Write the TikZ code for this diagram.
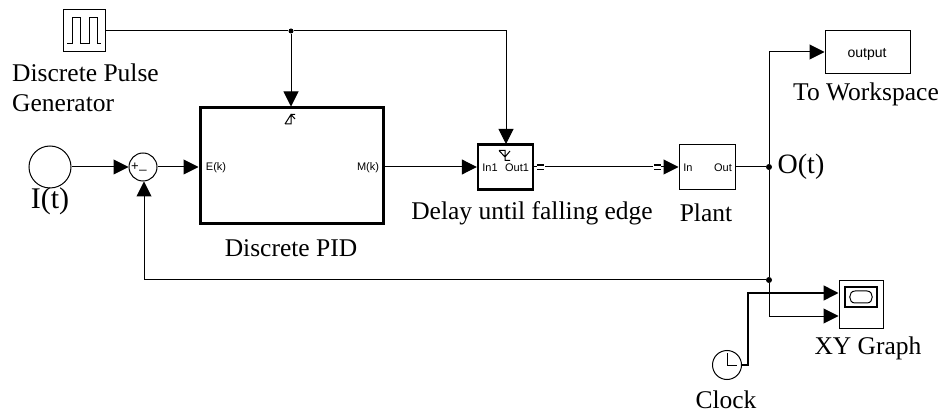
\documentclass[tikz,border=0pt]{standalone}
\usepackage{fontspec}
\setmainfont{Liberation Serif}
\newfontfamily\portfont{Liberation Sans}
\usetikzlibrary{arrows.meta}
\tikzset{
  x=1pt,y=-1pt,
  blk/.style={draw=black,line width=1pt,minimum width=#1,inner sep=0pt,fill=white},
  blk/.default=40pt,
  sig/.style={draw=black,line width=1pt,-{Triangle[length=15pt,width=15pt]}},
  wire/.style={draw=black,line width=1pt},
  lab/.style={font=\fontsize{25.5}{30}\selectfont,text=black,inner sep=0pt,align=left},
  port/.style={font=\portfont\fontsize{11}{12}\selectfont,text=black,inner sep=0pt},
  jn/.style={circle,fill=black,inner sep=0pt,minimum size=6pt},
}
\begin{document}
\begin{tikzpicture}
\useasboundingbox (0,0) rectangle (943,414);
% blocks
\node[blk=42pt,minimum height=42pt] (pulse) at (84,31) {};
\node[draw=black,line width=1pt,circle,minimum size=42pt,inner sep=0pt] (it) at (50,167) {};
\node[draw=black,line width=1pt,circle,minimum size=28pt,inner sep=0pt] (sum) at (143,167) {};
\node[blk=183pt,minimum height=116pt,line width=3pt] (pid) at (291.5,166) {};
\node[blk=55pt,minimum height=45pt,line width=2.4pt] (delay) at (505.5,167) {};
\node[blk=56pt,minimum height=45pt] (plant) at (707,167) {};
\node[blk=85pt,minimum height=43pt] (out) at (867.5,52) {};
\node[blk=44pt,minimum height=47pt] (xy) at (861,304.5) {};
\node[draw=black,line width=1pt,circle,minimum size=29pt,inner sep=0pt] (clock) at (727,365) {};
% junctions
\node[jn,minimum size=5pt] (j1) at (291,31) {};
\node[jn] (j2) at (769,167) {};
\node[jn] (j3) at (769,280) {};
\coordinate (xyA) at (xy.west |- 0,293);
\coordinate (xyB) at (xy.west |- 0,316);
% connectors
\draw[wire] (pulse.east) -- (j1);
\draw[sig] (j1) -- (pid.north -| j1);
\draw[sig] (j1) -- (506,31) -- (506,144);
\draw[sig] (it) -- (sum);
\draw[sig] (sum) -- (pid.west |- sum);
\draw[sig] (pid.east |- delay) -- (delay.west);
\draw[sig] (delay.east) -- (plant.west);
\draw[wire] (plant.east) -- (j2);
\draw[sig] (j2) -- (769,52) -- (out.west);
\draw[wire] (j2) -- (j3);
\draw[sig] (j3) -- (144,280) -- (sum.south -| 144,0);
\draw[sig] (j3) -- (769,316) -- (xyB);
\draw[sig,line width=1.5pt] (clock.east) -- (748,365) -- (748,293) -- (xyA);
% double-line markers on the vector signal
\fill[white] (537,164) rectangle (545,170);
\fill[white] (653,164) rectangle (661,170);
\foreach \x in {537,654}{
  \draw[black,line width=1.5pt] (\x,165) -- (\x+7,165) (\x,169.5) -- (\x+7,169.5);
}
% icons
\draw[black,line width=1pt] (67,44) -- (72,44) -- (72,18) -- (80,18) -- (80,44) -- (89,44) -- (89,18) -- (97,18) -- (97,44) -- (101,44);
\draw[black,line width=1pt] (285,124) -- (291,124) -- (291,114.5) -- (295,114.5) (285,124) -- (291,114.5) -- (295,119);
\draw[black,line width=1pt] (499,150.5) -- (505,150.5) -- (505,160.5) -- (510,160.5) (499,150.5) -- (505,157) -- (510,151);
\draw[black,line width=1pt] (727,353) -- (727,365) -- (737,365);
\draw[black,line width=2pt] (845,287) rectangle (877,307);
\draw[black,line width=1pt] (855,291) -- (867,291) to[out=0,in=0,looseness=1.5] (867,303) -- (855,303) to[out=180,in=180,looseness=1.5] (855,291);
% port text
\node[port] (pa) at (216,167.5) {E(k)};
\node[port] (pb) at (368,168) {M(k)};
\node[port] (pc) at (490,168) {In1};
\node[port] (pd) at (517,168) {Out1};
\node[port] (pe) at (688,168) {In};
\node[port] (pf) at (723,168) {Out};
\node[port,font=\portfont\fontsize{14}{15}\selectfont] (pg) at (867,54) {output};
\node[port,font=\portfont\fontsize{13}{13}\selectfont] (ph) at (135,166.5) {+};
\node[port,font=\portfont\fontsize{13}{13}\selectfont] (pi) at (143,170) {\_};
% labels
\node[lab,anchor=north west] (l1) at (12,64) {Discrete Pulse\\Generator};
\node[lab,font=\fontsize{30}{32}\selectfont] (l2) at (50,201) {I(t)};
\node[lab] (l3) at (291,248) {Discrete PID};
\node[lab] (l4) at (532,213) {Delay until falling edge};
\node[lab] (l5) at (706,213) {Plant};
\node[lab,font=\fontsize{28}{30}\selectfont] (l6) at (801,167) {O(t)};
\node[lab] (l7) at (866,94) {To Workspace};
\node[lab] (l8) at (868,348) {XY Graph};
\node[lab] (l9) at (726,400) {Clock};
\end{tikzpicture}
\end{document}
